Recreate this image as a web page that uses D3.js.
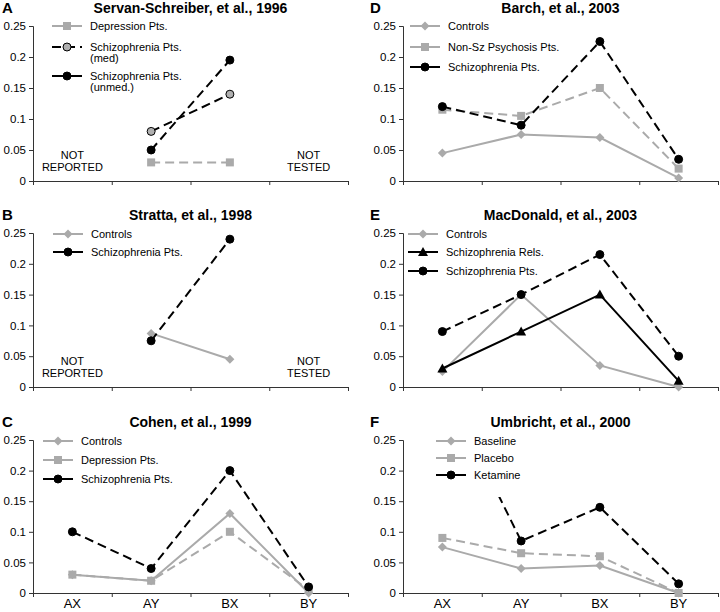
<!DOCTYPE html>
<html>
<head>
<meta charset="utf-8">
<script src="https://cdn.jsdelivr.net/npm/d3@7"></script>
<style>
  body { margin: 0; background: #fff; }
  svg { font-family: "Liberation Sans", Arial, sans-serif; }
</style>
</head>
<body>
<div id="chart"></div>
<script>
// categories and ticks
const categories = ['AX', 'AY', 'BX', 'BY'];
const yTickValues = [0, 0.05, 0.1, 0.15, 0.2, 0.25];

// A - Servan-Schreiber 1996
const servanDepression = [null, 0.03, 0.03, null];
const servanSzMed = [null, 0.08, 0.14, null];
const servanSzUnmed = [null, 0.05, 0.195, null];
// B - Stratta 1998
const strattaControls = [null, 0.087, 0.045, null];
const strattaSz = [null, 0.075, 0.24, null];
// C - Cohen 1999
const cohenControls = [0.03, 0.02, 0.13, 0.0];
const cohenDepression = [0.03, 0.02, 0.10, 0.005];
const cohenSz = [0.10, 0.04, 0.20, 0.01];
// D - Barch 2003
const barchControls = [0.045, 0.075, 0.07, 0.005];
const barchNonSz = [0.115, 0.105, 0.15, 0.02];
const barchSz = [0.12, 0.09, 0.225, 0.035];
// E - MacDonald 2003
const macdControls = [0.025, 0.15, 0.035, 0.0];
const macdRels = [0.03, 0.09, 0.15, 0.01];
const macdSz = [0.09, 0.15, 0.215, 0.05];
// F - Umbricht 2000 (ketamine AX is off the scale, hidden behind legend)
const umbBaseline = [0.075, 0.04, 0.045, 0.0];
const umbPlacebo = [0.09, 0.065, 0.06, 0.0];
const umbKetamine = [0.345, 0.085, 0.14, 0.015];

const GRAY = '#aaaaaa';
const BLACK = '#000';
const DASH = '9,5';

const cols = [[33, 348], [403, 718]];
const rows = [[26, 181], [233, 387], [440, 593]];

const panels = [
  { letter: 'A', title: 'Servan-Schreiber, et al., 1996', col: 0, row: 0, notes: true,
    legend: { x: 52, rows: [26, 47, 76] },
    series: [
      { name: ['Depression Pts.'], values: servanDepression, stroke: GRAY, dash: DASH, legendDash: null, marker: 'square', fill: GRAY },
      { name: ['Schizophrenia Pts.', '(med)'], values: servanSzMed, stroke: BLACK, dash: DASH, legendDash: DASH, marker: 'circle', fill: '#b0b0b0' },
      { name: ['Schizophrenia Pts.', '(unmed.)'], values: servanSzUnmed, stroke: BLACK, dash: DASH, legendDash: null, marker: 'circle', fill: BLACK }
    ] },
  { letter: 'B', title: 'Stratta, et al., 1998', col: 0, row: 1, notes: true,
    legend: { x: 53, rows: [234, 252] },
    series: [
      { name: ['Controls'], values: strattaControls, stroke: GRAY, dash: null, legendDash: null, marker: 'diamond', fill: GRAY },
      { name: ['Schizophrenia Pts.'], values: strattaSz, stroke: BLACK, dash: DASH, legendDash: null, marker: 'circle', fill: BLACK }
    ] },
  { letter: 'C', title: 'Cohen, et al., 1999', col: 0, row: 2, labels: true,
    legend: { x: 43, rows: [441, 460, 479] },
    series: [
      { name: ['Controls'], values: cohenControls, stroke: GRAY, dash: null, legendDash: null, marker: 'diamond', fill: GRAY },
      { name: ['Depression Pts.'], values: cohenDepression, stroke: GRAY, dash: DASH, legendDash: null, marker: 'square', fill: GRAY },
      { name: ['Schizophrenia Pts.'], values: cohenSz, stroke: BLACK, dash: DASH, legendDash: null, marker: 'circle', fill: BLACK }
    ] },
  { letter: 'D', title: 'Barch, et al., 2003', col: 1, row: 0,
    legend: { x: 410, rows: [26, 47, 67] },
    series: [
      { name: ['Controls'], values: barchControls, stroke: GRAY, dash: null, legendDash: null, marker: 'diamond', fill: GRAY },
      { name: ['Non-Sz Psychosis Pts.'], values: barchNonSz, stroke: GRAY, dash: DASH, legendDash: null, marker: 'square', fill: GRAY },
      { name: ['Schizophrenia Pts.'], values: barchSz, stroke: BLACK, dash: DASH, legendDash: null, marker: 'circle', fill: BLACK }
    ] },
  { letter: 'E', title: 'MacDonald, et al., 2003', col: 1, row: 1,
    legend: { x: 408, rows: [234, 252, 271] },
    series: [
      { name: ['Controls'], values: macdControls, stroke: GRAY, dash: null, legendDash: null, marker: 'diamond', fill: GRAY },
      { name: ['Schizophrenia Rels.'], values: macdRels, stroke: BLACK, dash: null, legendDash: null, marker: 'triangle', fill: BLACK },
      { name: ['Schizophrenia Pts.'], values: macdSz, stroke: BLACK, dash: DASH, legendDash: null, marker: 'circle', fill: BLACK }
    ] },
  { letter: 'F', title: 'Umbricht, et al., 2000', col: 1, row: 2, labels: true,
    legend: { x: 436, rows: [441, 458, 475], bg: [425, 430, 140, 67] },
    series: [
      { name: ['Baseline'], values: umbBaseline, stroke: GRAY, dash: null, legendDash: null, marker: 'diamond', fill: GRAY },
      { name: ['Placebo'], values: umbPlacebo, stroke: GRAY, dash: DASH, legendDash: null, marker: 'square', fill: GRAY },
      { name: ['Ketamine'], values: umbKetamine, stroke: BLACK, dash: DASH, legendDash: null, marker: 'circle', fill: BLACK }
    ] }
];

const svg = d3.select('#chart').append('svg')
  .attr('width', 720)
  .attr('height', 612);

function drawMarker(g, type, fill, cx, cy) {
  if (type === 'circle') {
    g.append('circle').attr('cx', cx).attr('cy', cy).attr('r', 4)
      .attr('fill', fill).attr('stroke', BLACK).attr('stroke-width', 1);
  } else if (type === 'square') {
    g.append('rect').attr('x', cx - 4).attr('y', cy - 4).attr('width', 8).attr('height', 8)
      .attr('fill', fill);
  } else if (type === 'diamond') {
    g.append('path').attr('transform', 'translate(' + cx + ',' + cy + ')')
      .attr('d', 'M0,-4.5L4.5,0L0,4.5L-4.5,0Z').attr('fill', fill);
  } else if (type === 'triangle') {
    g.append('path').attr('transform', 'translate(' + cx + ',' + cy + ')')
      .attr('d', 'M0,-5L5,4L-5,4Z').attr('fill', fill);
  }
}

panels.forEach(function (p, pi) {
  let x0 = cols[p.col][0], x1 = cols[p.col][1];
  let top = rows[p.row][0], bottom = rows[p.row][1];

  let x = d3.scaleBand().domain(categories).range([x0, x1]);
  let xEdge = d3.scaleLinear().domain([0, categories.length]).range([x0, x1]);
  let y = d3.scaleLinear().domain([0, 0.25]).range([bottom, top]);

  let g = svg.append('g');

  // panel letter + title
  g.append('text').attr('x', p.col === 0 ? 2 : 370).attr('y', top - 13)
    .attr('font-size', 15).attr('font-weight', 'bold').text(p.letter);
  g.append('text').attr('x', (x0 + x1) / 2).attr('y', top - 13)
    .attr('text-anchor', 'middle').attr('font-size', 14).attr('font-weight', 'bold').text(p.title);

  // axes
  let yAxis = d3.axisLeft(y).tickValues(yTickValues).tickSize(4).tickPadding(3)
    .tickFormat(d => d === 0 ? '0' : String(d));
  let ya = g.append('g').attr('transform', 'translate(' + x0 + ',0)').call(yAxis);
  ya.selectAll('text').attr('font-size', 11.5).attr('fill', '#000').attr('font-family', null);

  let xAxis = d3.axisBottom(xEdge).tickValues(d3.range(categories.length + 1)).tickSize(4).tickFormat('');
  g.append('g').attr('transform', 'translate(0,' + bottom + ')').call(xAxis);

  g.selectAll('.domain').attr('stroke', '#333');
  g.selectAll('.tick line').attr('stroke', '#333');

  if (p.labels) {
    g.append('g').selectAll('text').data(categories).enter().append('text')
      .attr('x', d => x(d) + x.bandwidth() / 2)
      .attr('y', bottom + 15)
      .attr('text-anchor', 'middle').attr('font-size', 13)
      .text(d => d);
  }

  if (p.notes) {
    let notes = [[categories[0], ['NOT', 'REPORTED']], [categories[3], ['NOT', 'TESTED']]];
    notes.forEach(function (n) {
      n[1].forEach(function (t, i) {
        g.append('text').attr('x', x(n[0]) + x.bandwidth() / 2).attr('y', bottom - 22 + i * 12)
          .attr('text-anchor', 'middle').attr('font-size', 11).text(t);
      });
    });
  }

  // clip plot
  let clipId = 'clip' + pi;
  svg.append('clipPath').attr('id', clipId).append('rect')
    .attr('x', x0 - 6).attr('y', top - 6).attr('width', x1 - x0 + 12).attr('height', bottom - top + 12);
  let plot = g.append('g').attr('clip-path', 'url(#' + clipId + ')');

  let line = d3.line()
    .defined(d => d != null)
    .x((d, i) => x(categories[i]) + x.bandwidth() / 2)
    .y(d => y(d));

  p.series.forEach(function (s) {
    plot.append('path').datum(s.values)
      .attr('d', line)
      .attr('fill', 'none')
      .attr('stroke', s.stroke)
      .attr('stroke-width', 2)
      .attr('stroke-dasharray', s.dash);
    s.values.forEach(function (v, i) {
      if (v == null) return;
      drawMarker(plot, s.marker, s.fill, x(categories[i]) + x.bandwidth() / 2, y(v));
    });
  });

  // legend
  let lg = g.append('g');
  if (p.legend.bg) {
    let b = p.legend.bg;
    lg.append('rect').attr('x', b[0]).attr('y', b[1]).attr('width', b[2]).attr('height', b[3]).attr('fill', '#fff');
  }
  p.series.forEach(function (s, i) {
    let ly = p.legend.rows[i];
    let lx = p.legend.x;
    lg.append('line').attr('x1', lx).attr('x2', lx + 30).attr('y1', ly).attr('y2', ly)
      .attr('stroke', s.stroke).attr('stroke-width', 2)
      .attr('stroke-dasharray', s.legendDash);
    drawMarker(lg, s.marker, s.fill, lx + 15, ly);
    s.name.forEach(function (t, j) {
      lg.append('text').attr('x', lx + 38).attr('y', ly + 4 + j * 11)
        .attr('font-size', 11).text(t);
    });
  });
});
</script>
</body>
</html>
